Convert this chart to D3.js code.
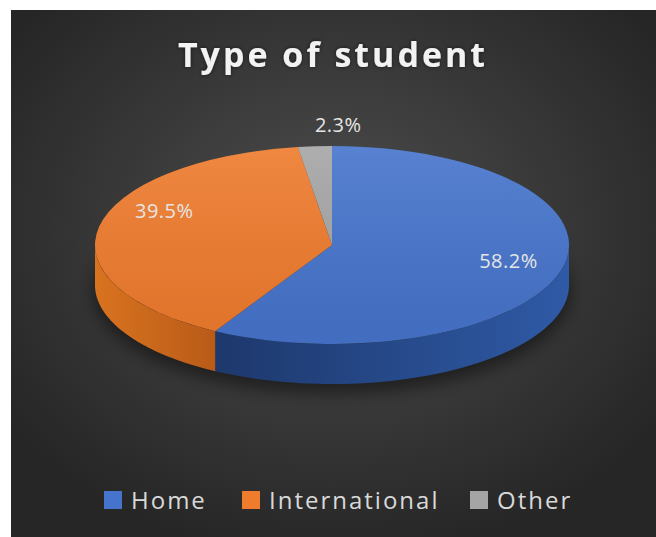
<!DOCTYPE html>
<html>
<head>
<meta charset="utf-8">
<script src="https://cdn.jsdelivr.net/npm/d3@7"></script>
<style>
  html, body { margin: 0; padding: 0; background: #fff; }
  svg { display: block; }
  text { font-family: "Open Sans", "DejaVu Sans", sans-serif; }
</style>
</head>
<body>
<svg id="chart" width="656" height="537"></svg>
<script>
// data
const title = "Type of student";
const categories = ["Home", "International", "Other"];
const values = [58.2, 39.5, 2.3];
const labels = ["58.2%", "39.5%", "2.3%"];

// styles
const topColors = ["#4674cc", "#ef7b2d", "#a5a5a5"];
const sideColors = [["#2f5aa6", "#1d386c"], ["#b95b18", "#d8731f"], ["#8a8a8a", "#8a8a8a"]];

const width = 656, height = 537;
const svg = d3.select("#chart");
const defs = svg.append("defs");

// background
const bg = defs.append("radialGradient").attr("id", "bg")
  .attr("cx", "50%").attr("cy", "42%").attr("r", "62%");
bg.append("stop").attr("offset", "0%").attr("stop-color", "#4e4e4e");
bg.append("stop").attr("offset", "100%").attr("stop-color", "#262626");
svg.append("rect").attr("x", 11).attr("y", 10)
  .attr("width", width - 11).attr("height", height - 10)
  .attr("fill", "url(#bg)");

// title
const glow = defs.append("filter").attr("id", "glow")
  .attr("x", "-10%").attr("y", "-30%").attr("width", "120%").attr("height", "160%");
glow.append("feDropShadow").attr("dx", 0).attr("dy", 0)
  .attr("stdDeviation", 2).attr("flood-color", "#000").attr("flood-opacity", 0.6);

svg.append("text")
  .attr("x", 333).attr("y", 67)
  .attr("text-anchor", "middle")
  .attr("fill", "#f2f2f2")
  .attr("font-size", 34).attr("font-weight", 700)
  .attr("letter-spacing", 3)
  .attr("filter", "url(#glow)")
  .text(title);

// 3d pie geometry
const cx = 332, cy = 245, rx = 237, ry = 99, depth = 40;

const pie = d3.pie().sort(null).value(d => d);
const arcs = pie(values);

// project an angle (d3 convention: 0 at 12 o'clock, clockwise) onto the ellipse
const proj = (a, r = 1, dy = 0) => [cx + rx * r * Math.sin(a), cy - ry * r * Math.cos(a) + dy];

// soft shadow underneath
const sh = defs.append("filter").attr("id", "shadow")
  .attr("x", "-20%").attr("y", "-50%").attr("width", "140%").attr("height", "200%");
sh.append("feGaussianBlur").attr("stdDeviation", 8);
svg.append("ellipse")
  .attr("cx", cx).attr("cy", cy + depth + 6)
  .attr("rx", rx + 2).attr("ry", ry + 4)
  .attr("fill", "#000").attr("opacity", 0.45)
  .attr("filter", "url(#shadow)");

// side walls: only the front half (a between pi/2 and 3pi/2) shows
const sideGroup = svg.append("g");
arcs.forEach((d, i) => {
  const a0 = Math.max(d.startAngle, Math.PI / 2);
  const a1 = Math.min(d.endAngle, 3 * Math.PI / 2);
  if (a1 <= a0) return;
  const n = 60;
  const ts = d3.range(n + 1).map(k => a0 + (a1 - a0) * k / n);
  const topEdge = ts.map(a => proj(a));
  const botEdge = ts.slice().reverse().map(a => proj(a, 1, depth));
  const g = defs.append("linearGradient").attr("id", "side" + i)
    .attr("gradientUnits", "userSpaceOnUse")
    .attr("x1", proj(a0)[0]).attr("x2", proj(a1)[0]).attr("y1", 0).attr("y2", 0);
  g.append("stop").attr("offset", "0%").attr("stop-color", sideColors[i][0]);
  g.append("stop").attr("offset", "100%").attr("stop-color", sideColors[i][1]);
  sideGroup.append("path")
    .attr("d", d3.line()(topEdge.concat(botEdge)) + "Z")
    .attr("fill", `url(#side${i})`);
});

// top face: flat arcs squashed into the ellipse
const topGrad = defs.append("linearGradient").attr("id", "topShade")
  .attr("x1", 0).attr("y1", 0).attr("x2", 0).attr("y2", 1);
topGrad.append("stop").attr("offset", "0%").attr("stop-color", "#fff").attr("stop-opacity", 0.1);
topGrad.append("stop").attr("offset", "100%").attr("stop-color", "#000").attr("stop-opacity", 0.06);

const arc = d3.arc().innerRadius(0).outerRadius(rx);
const topGroup = svg.append("g")
  .attr("transform", `translate(${cx},${cy}) scale(1,${ry / rx})`);
topGroup.selectAll("path.slice")
  .data(arcs)
  .join("path")
  .attr("class", "slice")
  .attr("d", arc)
  .attr("fill", (d, i) => topColors[i]);
topGroup.append("circle").attr("r", rx).attr("fill", "url(#topShade)");

// data labels
const labelR = [0.77, 0.72, 1.0];
const labelDy = [4, -14, -14];
svg.append("g").selectAll("text")
  .data(arcs)
  .join("text")
  .attr("x", (d, i) => proj((d.startAngle + d.endAngle) / 2, labelR[i])[0])
  .attr("y", (d, i) => proj((d.startAngle + d.endAngle) / 2, labelR[i])[1] + labelDy[i])
  .attr("text-anchor", (d, i) => i === 2 ? "start" : "middle")
  .attr("fill", "#e6e6e6")
  .attr("font-size", 20)
  .attr("letter-spacing", 0.5)
  .text((d, i) => labels[i]);

// legend
const legendX = [104, 242, 470];
const legend = svg.append("g").selectAll("g")
  .data(categories)
  .join("g")
  .attr("transform", (d, i) => `translate(${legendX[i]},500)`);
legend.append("rect")
  .attr("x", 0).attr("y", -9).attr("width", 18).attr("height", 18)
  .attr("fill", (d, i) => topColors[i]);
legend.append("text")
  .attr("x", 27).attr("y", 9)
  .attr("fill", "#d9d9d9")
  .attr("font-size", 24)
  .attr("letter-spacing", 2)
  .text(d => d);
</script>
</body>
</html>
